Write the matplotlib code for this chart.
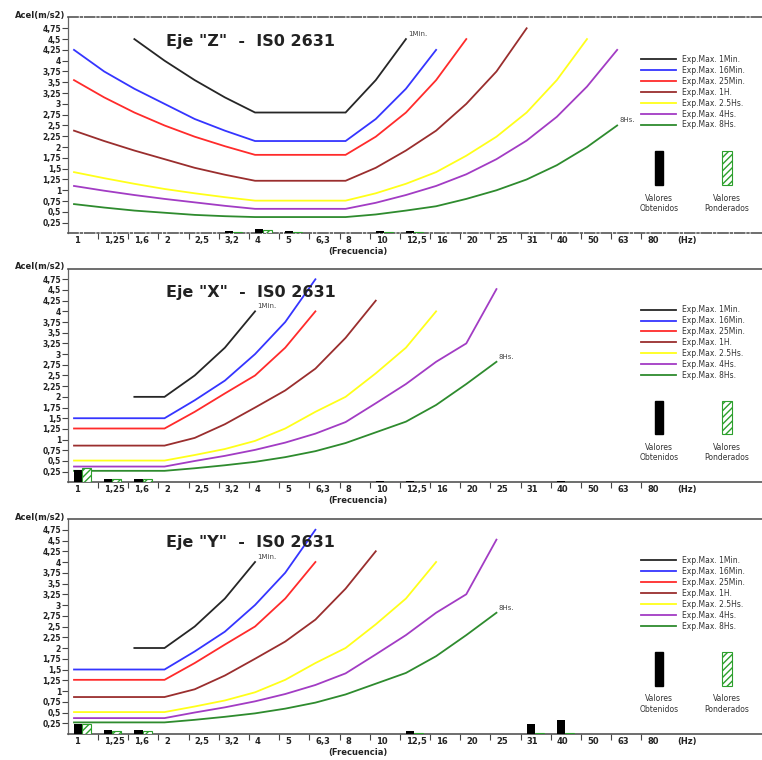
import numpy as np
import matplotlib
matplotlib.use("Agg")
import matplotlib.pyplot as plt
from matplotlib.patches import Rectangle
from matplotlib.transforms import blended_transform_factory

nan = np.nan

# frequency bands (Hz), categorical axis
freq_labels = ['1', '1,25', '1,6', '2', '2,5', '3,2', '4', '5', '6,3', '8',
               '10', '12,5', '16', '20', '25', '31', '40', '50', '63', '80']

series_names = ['Exp.Max. 1Min.', 'Exp.Max. 16Min.', 'Exp.Max. 25Min.', 'Exp.Max. 1H.',
                'Exp.Max. 2.5Hs.', 'Exp.Max. 4Hs.', 'Exp.Max. 8Hs.']
series_colors = ['#262626', '#3535ff', '#ff2b2b', '#9a2e2e', '#ffff1a', '#a23cc4', '#2e8b2e']

# eje Z (vertical) limits, m/s2
z_1min = [nan, nan, 4.5, 4.0, 3.55, 3.15, 2.8, 2.8, 2.8, 2.8, 3.55, 4.5,
          nan, nan, nan, nan, nan, nan, nan, nan]
z_16min = [4.25, 3.75, 3.35, 3.0, 2.65, 2.38, 2.14, 2.14, 2.14, 2.14, 2.65, 3.35, 4.25,
           nan, nan, nan, nan, nan, nan, nan]
z_25min = [3.55, 3.15, 2.8, 2.5, 2.24, 2.02, 1.82, 1.82, 1.82, 1.82, 2.24, 2.8, 3.55, 4.5,
           nan, nan, nan, nan, nan, nan]
z_1h = [2.38, 2.14, 1.92, 1.72, 1.52, 1.36, 1.22, 1.22, 1.22, 1.22, 1.52, 1.92, 2.38, 3.0,
        3.75, 4.75, nan, nan, nan, nan]
z_25h = [1.42, 1.28, 1.15, 1.03, 0.93, 0.84, 0.76, 0.76, 0.76, 0.76, 0.93, 1.15, 1.42, 1.8,
         2.24, 2.8, 3.55, 4.5, nan, nan]
z_4h = [1.1, 0.99, 0.89, 0.8, 0.72, 0.64, 0.57, 0.57, 0.57, 0.57, 0.71, 0.89, 1.1, 1.37,
        1.72, 2.15, 2.7, 3.4, 4.25, nan]
z_8h = [0.68, 0.6, 0.53, 0.48, 0.43, 0.4, 0.38, 0.38, 0.38, 0.38, 0.44, 0.53, 0.63, 0.8,
        1.0, 1.25, 1.58, 2.0, 2.5, nan]

# ejes X e Y (horizontal) limits, m/s2
h_1min = [nan, nan, 2.0, 2.0, 2.5, 3.15, 4.0, nan, nan, nan,
          nan, nan, nan, nan, nan, nan, nan, nan, nan, nan]
h_16min = [1.5, 1.5, 1.5, 1.5, 1.92, 2.38, 3.0, 3.75, 4.75, nan,
           nan, nan, nan, nan, nan, nan, nan, nan, nan, nan]
h_25min = [1.26, 1.26, 1.26, 1.26, 1.65, 2.08, 2.5, 3.15, 4.0, nan,
           nan, nan, nan, nan, nan, nan, nan, nan, nan, nan]
h_1h = [0.86, 0.86, 0.86, 0.86, 1.04, 1.36, 1.75, 2.15, 2.66, 3.38, 4.25,
        nan, nan, nan, nan, nan, nan, nan, nan, nan]
h_25h = [0.51, 0.51, 0.51, 0.51, 0.64, 0.78, 0.97, 1.26, 1.65, 2.0, 2.55, 3.15, 4.0,
         nan, nan, nan, nan, nan, nan, nan]
h_4h = [0.37, 0.37, 0.37, 0.37, 0.5, 0.62, 0.76, 0.93, 1.14, 1.41, 1.85, 2.3, 2.82, 3.25,
        4.52, nan, nan, nan, nan, nan]
h_8h = [0.27, 0.27, 0.27, 0.27, 0.33, 0.4, 0.48, 0.59, 0.73, 0.92, 1.17, 1.42, 1.81, 2.3,
        2.82, nan, nan, nan, nan, nan]

# measured values (obtenidos) and weighted values (ponderados)
z_obt = [0, 0, 0, 0, 0, 0.06, 0.11, 0.06, 0, 0, 0.06, 0.06, 0, 0, 0, 0, 0, 0, 0, 0]
z_pond = [0, 0, 0, 0, 0, 0.04, 0.09, 0.04, 0, 0, 0.04, 0.04, 0, 0, 0, 0, 0, 0, 0, 0]
x_obt = [0.3, 0.08, 0.08, 0, 0, 0, 0, 0, 0, 0, 0.04, 0.04, 0, 0, 0, 0, 0.04, 0, 0, 0]
x_pond = [0.33, 0.08, 0.08, 0, 0, 0, 0, 0, 0, 0, 0.01, 0.01, 0, 0, 0, 0, 0.01, 0, 0, 0]
y_obt = [0.23, 0.1, 0.1, 0, 0, 0, 0, 0, 0, 0, 0, 0.08, 0, 0, 0, 0.24, 0.33, 0, 0, 0]
y_pond = [0.23, 0.08, 0.08, 0, 0, 0, 0, 0, 0, 0, 0, 0.03, 0, 0, 0, 0.02, 0.03, 0, 0, 0]

y_ticks = np.arange(0.25, 4.8, 0.25)


def fmt(v):
    s = ('%.2f' % v).rstrip('0').rstrip('.')
    return s.replace('.', ',')


def panel(ax, title, curves, obt, pond, dashed):
    n = len(freq_labels)
    x = np.arange(n) + 0.2
    for vals, c in zip(curves, series_colors):
        ax.plot(x, vals, color=c, lw=1.3, solid_joinstyle='miter')
    obt = np.array(obt)
    pond = np.array(pond)
    i = np.nonzero(obt)[0]
    ax.bar(i + 0.2, obt[i], width=0.27, align='edge', color='black', zorder=3)
    j = np.nonzero(pond)[0]
    ax.bar(j + 0.47, pond[j], width=0.3, align='edge', facecolor='white',
           edgecolor='#2ca02c', hatch='/////', lw=0.8, zorder=3)

    # labels at the ends of the 1Min and 8Hs curves
    for vals, txt in [(curves[0], '1Min.'), (curves[6], '8Hs.')]:
        v = np.array(vals)
        k = np.where(~np.isnan(v))[0][-1]
        ax.annotate(txt, (x[k], v[k]), xytext=(2, 2), textcoords='offset pixels',
                    fontsize=5, color='#444', ha='left', va='bottom')

    ax.text(3.25, 4.45, title, fontsize=11.5, fontweight='bold', color='#222',
            ha='left', va='center')

    ax.set_xlim(0, 23)
    ax.set_ylim(0, 5)
    ax.set_yticks(y_ticks)
    ax.set_yticklabels([fmt(v) for v in y_ticks], fontsize=5.5, fontweight='bold', color='#222')
    ax.tick_params(axis='y', length=4, width=0.8, pad=1, color='#444')

    ax.set_xticks(np.arange(1, n))
    ax.set_xticklabels([])
    ax.tick_params(axis='x', which='major', length=4, width=0.8, color='#444')
    ax.set_xticks(list(x) + [n + 0.2], minor=True)
    ax.set_xticklabels(freq_labels + ['(Hz)'], minor=True, fontsize=6,
                       fontweight='bold', color='#222')
    ax.tick_params(axis='x', which='minor', length=0, pad=2)
    for lb in ax.get_xticklabels(minor=True):
        lb.set_horizontalalignment('left')

    ax.spines['right'].set_visible(False)
    ax.spines['left'].set_color('#666')
    ax.spines['left'].set_linewidth(0.9)
    for s in ['top', 'bottom']:
        ax.spines[s].set_color('#555')
        ax.spines[s].set_linewidth(1.2)
        if dashed:
            ax.spines[s].set_linestyle((0, (6, 1.5, 1, 1.5)))

    ax.annotate('Acel(m/s2)', (0, 1), xycoords='axes fraction', xytext=(-3, 2),
                textcoords='offset pixels', fontsize=6, fontweight='bold',
                color='#222', ha='right', va='center')
    tr = blended_transform_factory(ax.transData, ax.transAxes)
    ax.annotate('(Frecuencia)', (9.6, 0), xycoords=tr, xytext=(0, -18),
                textcoords='offset pixels', fontsize=6, fontweight='bold',
                color='#222', ha='center', va='center')

    # legend of the limit curves
    handles = ax.get_lines()[:7]
    ax.legend(handles, series_names, loc='center left', bbox_to_anchor=(0.826, 0.654),
              frameon=False, fontsize=5.5, handlelength=4.6, handletextpad=0.8,
              labelspacing=0.25, borderpad=0, borderaxespad=0, labelcolor='#333')

    # key for the bars
    ax.add_patch(Rectangle((19.44, 1.12), 0.27, 0.78, facecolor='black', edgecolor='black'))
    ax.add_patch(Rectangle((21.69, 1.12), 0.3, 0.78, facecolor='white',
                           edgecolor='#2ca02c', hatch='/////', lw=0.8))
    ax.text(19.6, 0.7, 'Valores\nObtenidos', fontsize=5.5, color='#333',
            ha='center', va='center', linespacing=1.2)
    ax.text(21.84, 0.7, 'Valores\nPonderados', fontsize=5.5, color='#333',
            ha='center', va='center', linespacing=1.2)


fig = plt.figure(figsize=(7.62, 7.60), dpi=100)
ax1 = fig.add_axes([0.0892, 0.6928, 0.9108, 0.2842])
ax2 = fig.add_axes([0.0892, 0.3653, 0.9108, 0.2813])
ax3 = fig.add_axes([0.0892, 0.0342, 0.9108, 0.2829])

panel(ax1, 'Eje "Z"  -  IS0 2631', [z_1min, z_16min, z_25min, z_1h, z_25h, z_4h, z_8h],
      z_obt, z_pond, True)
panel(ax2, 'Eje "X"  -  IS0 2631', [h_1min, h_16min, h_25min, h_1h, h_25h, h_4h, h_8h],
      x_obt, x_pond, False)
panel(ax3, 'Eje "Y"  -  IS0 2631', [h_1min, h_16min, h_25min, h_1h, h_25h, h_4h, h_8h],
      y_obt, y_pond, False)

fig.savefig('out.png', dpi=100)
